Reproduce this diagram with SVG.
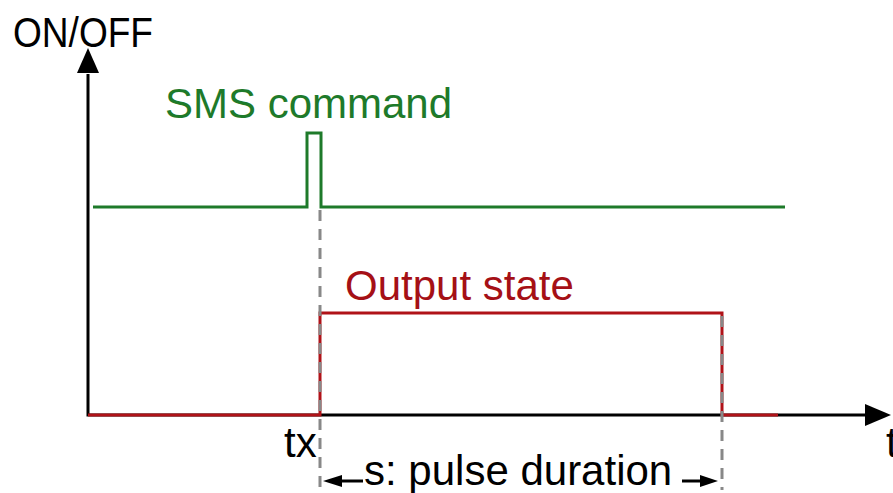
<svg xmlns="http://www.w3.org/2000/svg" width="893" height="493" viewBox="0 0 893 493">
<style>
text{font-family:"Liberation Sans",Arial,sans-serif;font-size:42px}
.axis{stroke:#000;stroke-width:3;fill:none}
.red{stroke:#b01218;stroke-width:3;fill:none}
.green{stroke:#1e7a2a;stroke-width:3;fill:none}
.dash{stroke:#888;stroke-width:3;stroke-dasharray:11 8;fill:none}
.dim{stroke:#000;stroke-width:3;fill:none}
</style>
<rect width="893" height="493" fill="#fff"/>
<g id="connectors">
<polyline class="axis" points="88,74 88,415 866,415"/>
<polygon points="88,48 77,73 99,73" fill="#000"/>
<polygon points="891,415 865,404 865,426" fill="#000"/>
<polyline id="green-signal" class="green" points="93,207 307,207 307,133 321,133 321,207 785,207"/>
<polyline id="red-signal" class="red" points="88,415 320,415 320,313 722,313 722,415 778,415"/>
<line class="dash" x1="320" y1="210" x2="320" y2="490"/>
<line class="dash" x1="722" y1="316" x2="722" y2="490"/>
<line class="dim" x1="336" y1="481" x2="363" y2="481"/>
<polygon points="323,481 342,475 342,487" fill="#000"/>
<line class="dim" x1="682" y1="481" x2="704" y2="481"/>
<polygon points="718,481 700,475 700,487" fill="#000"/>
</g>
<g id="label-onoff"><text x="13" y="47" font-size="41" textLength="140" lengthAdjust="spacingAndGlyphs">ON/OFF</text></g>
<g id="label-sms"><text x="165" y="118" fill="#1e7a2a">SMS command</text></g>
<g id="label-output"><text x="345" y="300" fill="#a51016">Output state</text></g>
<g id="label-tx"><text x="284" y="457">tx</text></g>
<g id="label-t"><text x="886" y="457">t</text></g>
<g id="label-pulse"><text x="364" y="485">s: pulse duration</text></g>
</svg>
